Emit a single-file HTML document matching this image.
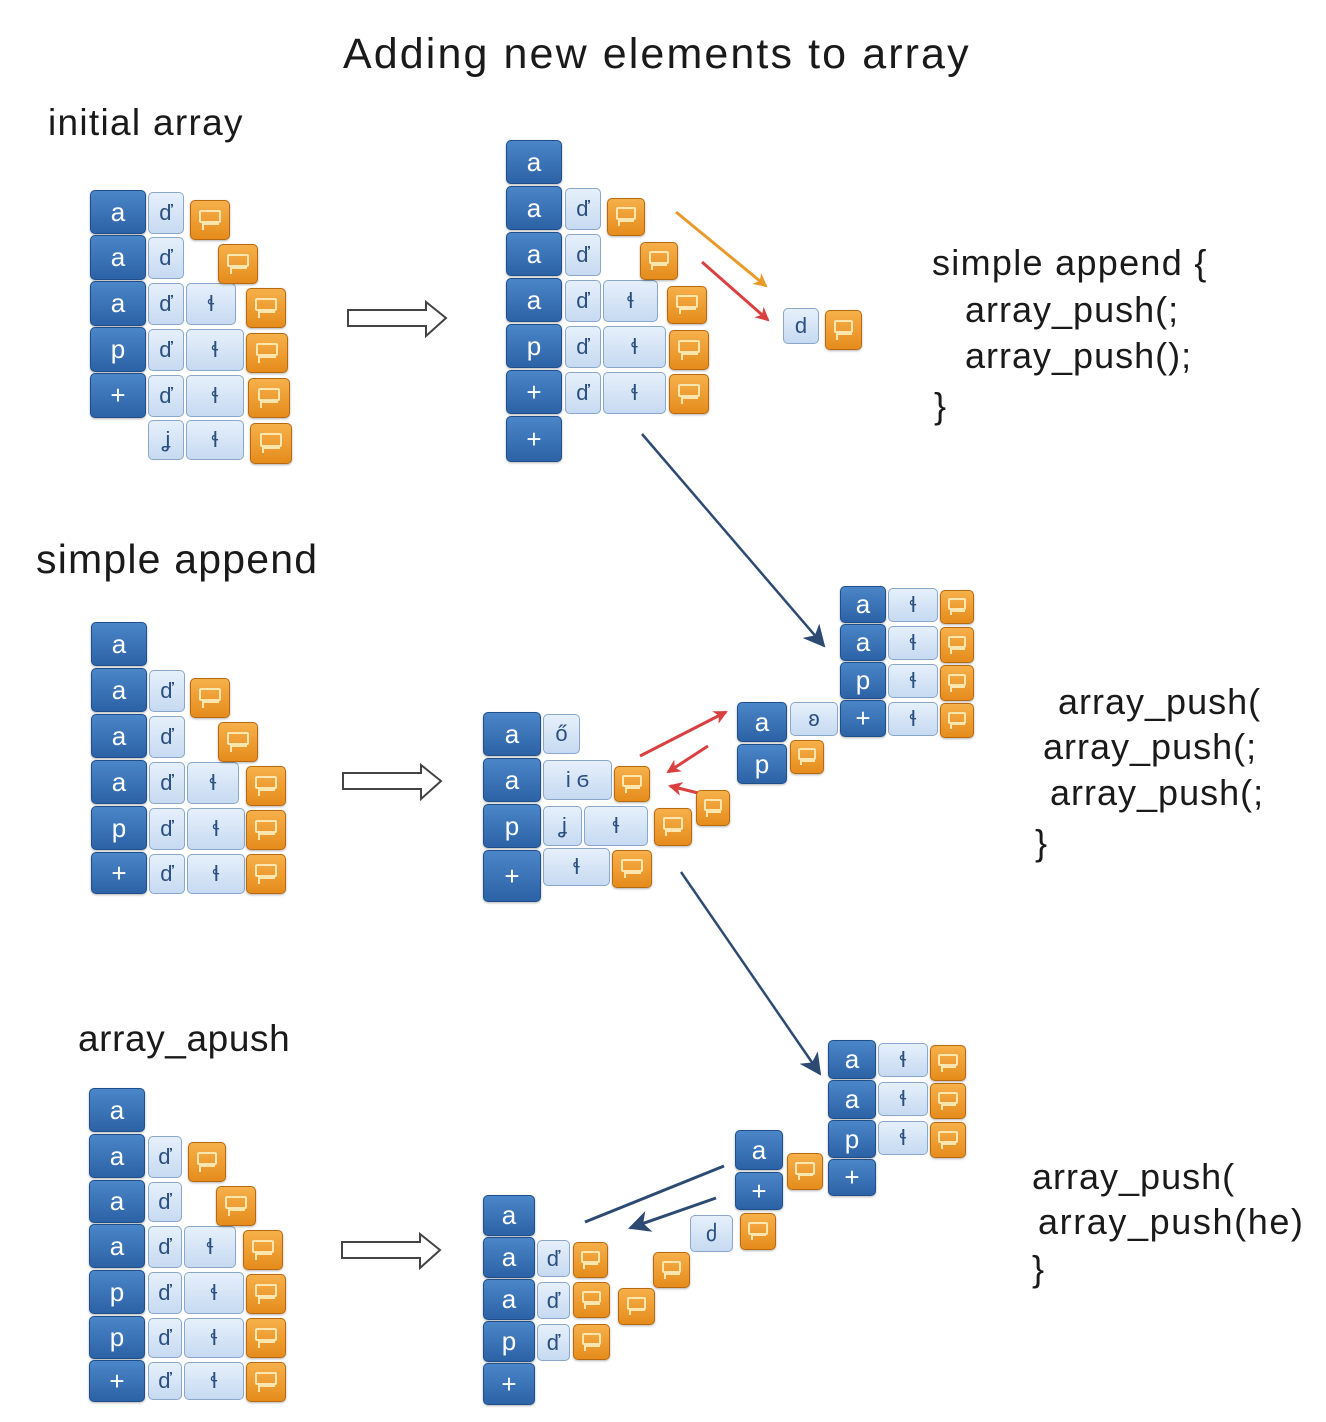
<!DOCTYPE html>
<html><head><meta charset="utf-8">
<style>
body{margin:0;width:1326px;height:1422px;background:#fff;position:relative;overflow:hidden;font-family:"Liberation Sans",sans-serif;}
.t{position:absolute;color:#1a1a1a;line-height:1;white-space:nowrap;letter-spacing:1px}
i{position:absolute;display:flex;align-items:center;justify-content:center;font-style:normal;box-sizing:border-box;border-radius:5px}
.b{background:linear-gradient(#4a86c8,#2c62a6);border:1px solid #1f4f8a;color:#fff;font-size:26px;box-shadow:0 1px 2px rgba(0,0,0,.3)}
.l{background:linear-gradient(#e6f0fb,#c6daf1);border:1.5px solid #8aa6c8;color:#2a4f80;font-size:22px}
.o{background:linear-gradient(#f6b04a,#e58c1c);border:1.5px solid #b86a10;box-shadow:0 1px 2px rgba(0,0,0,.3)}
.o::before{content:"";width:45%;height:24%;border:2px solid #fbe6b0;border-radius:2px;margin-bottom:18%}
.o::after{content:"";position:absolute;left:28%;top:58%;width:40%;height:12%;border-left:2px solid #fbe6b0;border-top:2px solid #fbe6b0}
svg{position:absolute;left:0;top:0}
</style></head><body>
<svg width="1326" height="1422">
<defs>
<marker id="hr" markerWidth="14" markerHeight="14" refX="12" refY="7" orient="auto" markerUnits="userSpaceOnUse" viewBox="0 0 14 14"><path d="M0,0 L14,7 L0,14 L4,7z" fill="#d94040"/></marker>
<marker id="ho" markerWidth="14" markerHeight="14" refX="12" refY="7" orient="auto" markerUnits="userSpaceOnUse" viewBox="0 0 14 14"><path d="M0,0 L14,7 L0,14 L4,7z" fill="#e89a2a"/></marker>
<marker id="hn" markerWidth="22" markerHeight="22" refX="20" refY="11" orient="auto" markerUnits="userSpaceOnUse" viewBox="0 0 22 22"><path d="M0,0 L22,11 L0,22 L6,11z" fill="#2c4a72"/></marker>
</defs>
<g fill="#fff" stroke="#444" stroke-width="2">
<path d="M348,310 H426 V302 L446,318 L426,336 V326 H348z"/>
<path d="M343,773 H421 V765 L441,781 L421,799 V789 H343z"/>
<path d="M342,1242 H420 V1234 L440,1250 L420,1268 V1258 H342z"/>
</g>
<line x1="676" y1="212" x2="766" y2="286" stroke="#e89a2a" stroke-width="3" marker-end="url(#ho)"/>
<line x1="702" y1="262" x2="768" y2="320" stroke="#d94040" stroke-width="3" marker-end="url(#hr)"/>
<line x1="642" y1="434" x2="824" y2="646" stroke="#2c4a72" stroke-width="2.5" marker-end="url(#hn)"/>
<line x1="681" y1="872" x2="820" y2="1074" stroke="#2c4a72" stroke-width="2.5" marker-end="url(#hn)"/>
<line x1="640" y1="756" x2="726" y2="712" stroke="#d94040" stroke-width="3" marker-end="url(#hr)"/>
<line x1="708" y1="746" x2="668" y2="772" stroke="#d94040" stroke-width="3" marker-end="url(#hr)"/>
<line x1="702" y1="794" x2="670" y2="786" stroke="#d94040" stroke-width="3" marker-end="url(#hr)"/>
<line x1="585" y1="1222" x2="724" y2="1166" stroke="#2c4a72" stroke-width="3"/>
<line x1="716" y1="1198" x2="630" y2="1228" stroke="#2c4a72" stroke-width="3" marker-end="url(#hn)"/>
</svg>

<div class="t" style="left:343px;top:33px;font-size:43px;letter-spacing:2.1px">Adding new elements to array</div>
<div class="t" style="left:48px;top:104px;font-size:37px;letter-spacing:1.3px">initial array</div>
<div class="t" style="left:36px;top:539px;font-size:41px;letter-spacing:1.2px">simple append</div>
<div class="t" style="left:78px;top:1020px;font-size:37px;letter-spacing:0.6px">array_apush</div>
<div class="t" style="left:932px;top:245px;font-size:36px;letter-spacing:1.3px">simple append {</div>
<div class="t" style="left:965px;top:292px;font-size:36px">array_push(;</div>
<div class="t" style="left:965px;top:338px;font-size:36px">array_push();</div>
<div class="t" style="left:934px;top:388px;font-size:36px">}</div>
<div class="t" style="left:1058px;top:684px;font-size:36px">array_push(</div>
<div class="t" style="left:1043px;top:729px;font-size:36px">array_push(;</div>
<div class="t" style="left:1050px;top:775px;font-size:36px">array_push(;</div>
<div class="t" style="left:1035px;top:825px;font-size:36px">}</div>
<div class="t" style="left:1032px;top:1159px;font-size:36px">array_push(</div>
<div class="t" style="left:1038px;top:1204px;font-size:36px;letter-spacing:1.6px">array_push(he)</div>
<div class="t" style="left:1032px;top:1251px;font-size:36px">}</div>

<!-- group 1 -->
<i class="b" style="left:90px;top:190px;width:56px;height:44px">a</i>
<i class="b" style="left:90px;top:235px;width:56px;height:45px">a</i>
<i class="b" style="left:90px;top:281px;width:56px;height:45px">a</i>
<i class="b" style="left:90px;top:327px;width:56px;height:45px">p</i>
<i class="b" style="left:90px;top:373px;width:56px;height:45px">+</i>
<i class="l" style="left:148px;top:192px;width:36px;height:42px">ď</i>
<i class="l" style="left:148px;top:237px;width:36px;height:42px">ď</i>
<i class="l" style="left:148px;top:283px;width:36px;height:42px">ď</i>
<i class="l" style="left:148px;top:329px;width:36px;height:42px">ď</i>
<i class="l" style="left:148px;top:375px;width:36px;height:42px">ď</i>
<i class="l" style="left:148px;top:420px;width:36px;height:40px">ʝ</i>
<i class="l" style="left:186px;top:283px;width:50px;height:42px">ɬ</i>
<i class="l" style="left:186px;top:329px;width:58px;height:42px">ɬ</i>
<i class="l" style="left:186px;top:375px;width:58px;height:42px">ɬ</i>
<i class="l" style="left:186px;top:420px;width:58px;height:40px">ɬ</i>
<i class="o" style="left:190px;top:200px;width:40px;height:40px"></i>
<i class="o" style="left:218px;top:244px;width:40px;height:40px"></i>
<i class="o" style="left:246px;top:288px;width:40px;height:40px"></i>
<i class="o" style="left:246px;top:333px;width:42px;height:40px"></i>
<i class="o" style="left:248px;top:378px;width:42px;height:40px"></i>
<i class="o" style="left:250px;top:423px;width:42px;height:41px"></i>

<!-- group 2 -->
<i class="b" style="left:506px;top:140px;width:56px;height:44px">a</i>
<i class="b" style="left:506px;top:186px;width:56px;height:44px">a</i>
<i class="b" style="left:506px;top:232px;width:56px;height:44px">a</i>
<i class="b" style="left:506px;top:278px;width:56px;height:44px">a</i>
<i class="b" style="left:506px;top:324px;width:56px;height:44px">p</i>
<i class="b" style="left:506px;top:370px;width:56px;height:44px">+</i>
<i class="b" style="left:506px;top:416px;width:56px;height:46px">+</i>
<i class="l" style="left:565px;top:188px;width:36px;height:42px">ď</i>
<i class="l" style="left:565px;top:234px;width:36px;height:42px">ď</i>
<i class="l" style="left:565px;top:280px;width:36px;height:42px">ď</i>
<i class="l" style="left:565px;top:326px;width:36px;height:42px">ď</i>
<i class="l" style="left:565px;top:372px;width:36px;height:42px">ď</i>
<i class="l" style="left:603px;top:280px;width:55px;height:42px">ɬ</i>
<i class="l" style="left:603px;top:326px;width:63px;height:42px">ɬ</i>
<i class="l" style="left:603px;top:372px;width:63px;height:42px">ɬ</i>
<i class="o" style="left:607px;top:198px;width:38px;height:38px"></i>
<i class="o" style="left:640px;top:242px;width:38px;height:38px"></i>
<i class="o" style="left:667px;top:286px;width:40px;height:38px"></i>
<i class="o" style="left:669px;top:330px;width:40px;height:40px"></i>
<i class="o" style="left:669px;top:374px;width:40px;height:40px"></i>
<i class="l" style="left:783px;top:308px;width:36px;height:36px">d</i>
<i class="o" style="left:825px;top:310px;width:37px;height:40px"></i>

<!-- group 3 left -->
<i class="b" style="left:91px;top:622px;width:56px;height:44px">a</i>
<i class="b" style="left:91px;top:668px;width:56px;height:44px">a</i>
<i class="b" style="left:91px;top:714px;width:56px;height:44px">a</i>
<i class="b" style="left:91px;top:760px;width:56px;height:44px">a</i>
<i class="b" style="left:91px;top:806px;width:56px;height:44px">p</i>
<i class="b" style="left:91px;top:852px;width:56px;height:42px">+</i>
<i class="l" style="left:149px;top:670px;width:36px;height:42px">ď</i>
<i class="l" style="left:149px;top:716px;width:36px;height:42px">ď</i>
<i class="l" style="left:149px;top:762px;width:36px;height:42px">ď</i>
<i class="l" style="left:149px;top:808px;width:36px;height:42px">ď</i>
<i class="l" style="left:149px;top:854px;width:36px;height:40px">ď</i>
<i class="l" style="left:187px;top:762px;width:52px;height:42px">ɬ</i>
<i class="l" style="left:187px;top:808px;width:58px;height:42px">ɬ</i>
<i class="l" style="left:187px;top:854px;width:58px;height:40px">ɬ</i>
<i class="o" style="left:190px;top:678px;width:40px;height:40px"></i>
<i class="o" style="left:218px;top:722px;width:40px;height:40px"></i>
<i class="o" style="left:246px;top:766px;width:40px;height:40px"></i>
<i class="o" style="left:246px;top:810px;width:40px;height:40px"></i>
<i class="o" style="left:246px;top:854px;width:40px;height:40px"></i>

<!-- group 3 middle -->
<i class="b" style="left:483px;top:712px;width:58px;height:44px">a</i>
<i class="b" style="left:483px;top:758px;width:58px;height:44px">a</i>
<i class="b" style="left:483px;top:804px;width:58px;height:44px">p</i>
<i class="b" style="left:483px;top:850px;width:58px;height:52px">+</i>
<i class="l" style="left:543px;top:714px;width:37px;height:40px">ő</i>
<i class="l" style="left:543px;top:760px;width:69px;height:40px">i ϭ</i>
<i class="l" style="left:543px;top:806px;width:39px;height:40px">ʝ</i>
<i class="l" style="left:584px;top:806px;width:64px;height:40px">ɬ</i>
<i class="l" style="left:543px;top:848px;width:67px;height:38px">ɬ</i>
<i class="o" style="left:614px;top:766px;width:36px;height:36px"></i>
<i class="o" style="left:654px;top:808px;width:38px;height:38px"></i>
<i class="o" style="left:696px;top:790px;width:34px;height:36px"></i>
<i class="o" style="left:612px;top:850px;width:40px;height:38px"></i>

<!-- group 3 right -->
<i class="b" style="left:840px;top:586px;width:46px;height:37px">a</i>
<i class="b" style="left:840px;top:624px;width:46px;height:37px">a</i>
<i class="b" style="left:840px;top:662px;width:46px;height:37px">p</i>
<i class="b" style="left:840px;top:700px;width:46px;height:37px">+</i>
<i class="l" style="left:888px;top:588px;width:50px;height:34px">ɬ</i>
<i class="l" style="left:888px;top:626px;width:50px;height:34px">ɬ</i>
<i class="l" style="left:888px;top:664px;width:50px;height:34px">ɬ</i>
<i class="l" style="left:888px;top:702px;width:50px;height:34px">ɬ</i>
<i class="o" style="left:940px;top:590px;width:34px;height:34px"></i>
<i class="o" style="left:940px;top:627px;width:34px;height:36px"></i>
<i class="o" style="left:940px;top:665px;width:34px;height:36px"></i>
<i class="o" style="left:940px;top:703px;width:34px;height:35px"></i>
<i class="b" style="left:737px;top:702px;width:50px;height:40px">a</i>
<i class="b" style="left:737px;top:744px;width:50px;height:40px">p</i>
<i class="l" style="left:790px;top:702px;width:48px;height:34px">ʚ</i>
<i class="o" style="left:790px;top:740px;width:34px;height:34px"></i>

<!-- group 4 left -->
<i class="b" style="left:89px;top:1088px;width:56px;height:44px">a</i>
<i class="b" style="left:89px;top:1134px;width:56px;height:44px">a</i>
<i class="b" style="left:89px;top:1180px;width:56px;height:43px">a</i>
<i class="b" style="left:89px;top:1224px;width:56px;height:44px">a</i>
<i class="b" style="left:89px;top:1270px;width:56px;height:44px">p</i>
<i class="b" style="left:89px;top:1316px;width:56px;height:43px">p</i>
<i class="b" style="left:89px;top:1360px;width:56px;height:42px">+</i>
<i class="l" style="left:148px;top:1136px;width:34px;height:42px">ď</i>
<i class="l" style="left:148px;top:1182px;width:34px;height:40px">ď</i>
<i class="l" style="left:148px;top:1226px;width:34px;height:42px">ď</i>
<i class="l" style="left:148px;top:1272px;width:34px;height:42px">ď</i>
<i class="l" style="left:148px;top:1318px;width:34px;height:40px">ď</i>
<i class="l" style="left:148px;top:1362px;width:34px;height:38px">ď</i>
<i class="l" style="left:184px;top:1226px;width:52px;height:42px">ɬ</i>
<i class="l" style="left:184px;top:1272px;width:60px;height:42px">ɬ</i>
<i class="l" style="left:184px;top:1318px;width:60px;height:40px">ɬ</i>
<i class="l" style="left:184px;top:1362px;width:60px;height:38px">ɬ</i>
<i class="o" style="left:188px;top:1142px;width:38px;height:40px"></i>
<i class="o" style="left:216px;top:1186px;width:40px;height:40px"></i>
<i class="o" style="left:243px;top:1230px;width:40px;height:40px"></i>
<i class="o" style="left:246px;top:1274px;width:40px;height:40px"></i>
<i class="o" style="left:246px;top:1318px;width:40px;height:40px"></i>
<i class="o" style="left:246px;top:1362px;width:40px;height:40px"></i>

<!-- group 4 middle -->
<i class="b" style="left:483px;top:1195px;width:52px;height:41px">a</i>
<i class="b" style="left:483px;top:1237px;width:52px;height:41px">a</i>
<i class="b" style="left:483px;top:1279px;width:52px;height:41px">a</i>
<i class="b" style="left:483px;top:1321px;width:52px;height:41px">p</i>
<i class="b" style="left:483px;top:1363px;width:52px;height:42px">+</i>
<i class="l" style="left:537px;top:1240px;width:33px;height:37px">ď</i>
<i class="l" style="left:537px;top:1282px;width:33px;height:37px">ď</i>
<i class="l" style="left:537px;top:1324px;width:33px;height:37px">ď</i>
<i class="o" style="left:573px;top:1242px;width:35px;height:36px"></i>
<i class="o" style="left:573px;top:1282px;width:37px;height:36px"></i>
<i class="o" style="left:573px;top:1324px;width:37px;height:36px"></i>
<i class="o" style="left:618px;top:1288px;width:37px;height:37px"></i>
<i class="o" style="left:653px;top:1252px;width:37px;height:36px"></i>
<i class="l" style="left:690px;top:1215px;width:43px;height:37px">ძ</i>
<i class="o" style="left:740px;top:1213px;width:36px;height:37px"></i>
<i class="b" style="left:735px;top:1130px;width:48px;height:40px">a</i>
<i class="b" style="left:735px;top:1172px;width:48px;height:38px">+</i>
<i class="o" style="left:787px;top:1153px;width:36px;height:37px"></i>
<i class="b" style="left:828px;top:1040px;width:48px;height:39px">a</i>
<i class="b" style="left:828px;top:1080px;width:48px;height:39px">a</i>
<i class="b" style="left:828px;top:1120px;width:48px;height:38px">p</i>
<i class="b" style="left:828px;top:1159px;width:48px;height:37px">+</i>
<i class="l" style="left:878px;top:1043px;width:50px;height:34px">ɬ</i>
<i class="l" style="left:878px;top:1082px;width:50px;height:34px">ɬ</i>
<i class="l" style="left:878px;top:1121px;width:50px;height:34px">ɬ</i>
<i class="o" style="left:930px;top:1045px;width:36px;height:36px"></i>
<i class="o" style="left:930px;top:1083px;width:36px;height:36px"></i>
<i class="o" style="left:930px;top:1122px;width:36px;height:36px"></i>
</body></html>
